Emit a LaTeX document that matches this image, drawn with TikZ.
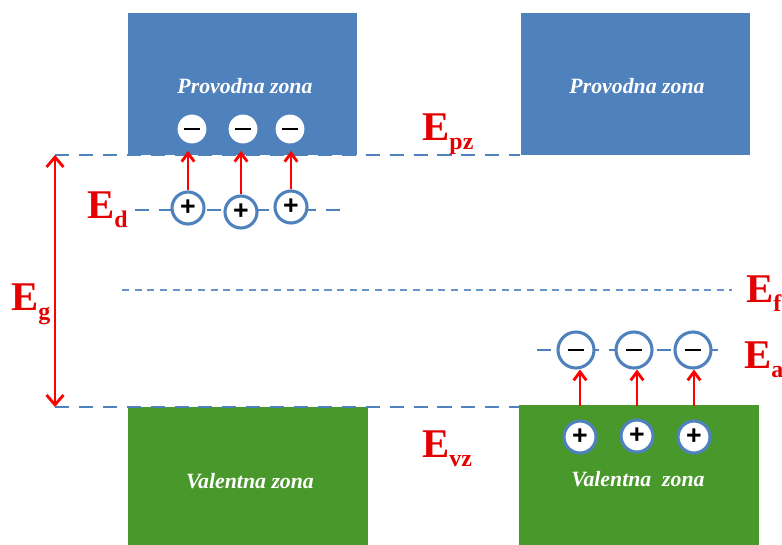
\documentclass[tikz,border=0pt]{standalone}
\usepackage{fontspec}
\setmainfont{Liberation Serif}
\setsansfont{Liberation Sans}
\usetikzlibrary{arrows.meta}

\definecolor{zoneblue}{RGB}{79,129,189}
\definecolor{zonegreen}{RGB}{73,152,43}
\definecolor{labelred}{RGB}{228,0,0}

% energy label: E with a lowered subscript
\newcommand{\elev}[1]{E\raisebox{-7pt}{\fontsize{17}{17}\selectfont #1}}
% signs inside a circle
\newcommand{\minussign}{\rule{12pt}{1.5pt}}
\newcommand{\plussign}{\raisebox{-1.5pt}{+}}

\begin{document}
\begin{tikzpicture}[x=0.025cm, y=-0.025cm,
  zone/.style={inner sep=0, outer sep=0, minimum width=5.725cm, minimum height=3.55cm},
  zonetext/.style={text=white, font=\bfseries\itshape\fontsize{15.5}{17}\selectfont},
  level/.style={draw=zoneblue, line width=2pt, dash pattern=on 10pt off 7pt},
  fermi/.style={draw=zoneblue!85, line width=0.8pt, dash pattern=on 5pt off 4pt},
  charge/.style={circle, draw=zoneblue, line width=2.2pt, fill=white, minimum size=0.8cm,
    inner sep=0, font=\sffamily\bfseries\fontsize{19}{19}\selectfont},
  free/.style={circle, fill=white, minimum size=0.72cm, inner sep=0},
  jump/.style={-{Straight Barb[length=6pt,width=9pt]}, red, line width=2pt},
  elabel/.style={text=labelred, font=\bfseries\fontsize{29}{30}\selectfont, inner sep=0, anchor=base west}]

  \useasboundingbox (0,0) rectangle (782,545);

  % zones
  \node[zone, fill=zoneblue] (pzA) at (242.5,84) {};
  \node[zone, fill=zoneblue] (pzB) at (635.5,84) {};
  \node[zone, fill=zonegreen, minimum width=6cm, minimum height=3.45cm] (vzA) at (248,476) {};
  \node[zone, fill=zonegreen, minimum width=6cm, minimum height=3.5cm] (vzB) at (639,475) {};

  \node[zonetext] (pzAtext) at (245,86) {Provodna zona};
  \node[zonetext] (pzBtext) at (637,86) {Provodna zona};
  \node[zonetext] (vzAtext) at (250,481) {Valentna zona};
  \node[zonetext] (vzBtext) at (638,479) {Valentna\ \ zona};

  % band edges and levels
  \coordinate (pzL) at (55,155);
  \coordinate (pzR) at (520,155);
  \coordinate (vzL) at (55,407);
  \coordinate (vzR) at (520,407);
  \coordinate (edL) at (135,210);
  \coordinate (edR) at (345,210);
  \coordinate (eaL) at (537,350);
  \coordinate (eaR) at (718,350);
  \coordinate (efL) at (122,290);
  \coordinate (efR) at (732,290);

  \draw[level] (pzL) -- (pzR);
  \draw[level] (vzL) -- (vzR);
  \draw[level] (edL) -- (edR);
  \draw[level] (eaL) -- (eaR);
  \draw[fermi] (efL) -- (efR);

  \draw[red, line width=2pt, {Straight Barb[length=7pt,width=12pt]}-{Straight Barb[length=7pt,width=12pt]}] (pzL) -- (vzL);

  % donors and free electrons
  \node[free] (e1) at (192,129) {\minussign};
  \node[free] (e2) at (243,129) {\minussign};
  \node[free] (e3) at (290,129) {\minussign};
  \node[charge] (d1) at (188,208) {\plussign};
  \node[charge] (d2) at (241,212) {\plussign};
  \node[charge] (d3) at (291,207) {\plussign};

  \draw[jump, shorten >=0.18cm] (d1.north) -- (d1.north |- e1.south);
  \draw[jump, shorten >=0.18cm] (d2.north) -- (d2.north |- e2.south);
  \draw[jump, shorten >=0.18cm] (d3.north) -- (d3.north |- e3.south);

  % acceptors and holes
  \node[charge, minimum size=0.9cm] (a1) at (576,350) {\minussign};
  \node[charge, minimum size=0.9cm] (a2) at (634,350) {\minussign};
  \node[charge, minimum size=0.9cm] (a3) at (693,350) {\minussign};
  \node[charge] (h1) at (580,437) {\plussign};
  \node[charge] (h2) at (637,436) {\plussign};
  \node[charge] (h3) at (694,437) {\plussign};

  \draw[jump, shorten <=0.33cm] (h1.north) -- (h1.north |- a1.south);
  \draw[jump, shorten <=0.32cm] (h2.north) -- (h2.north |- a2.south);
  \draw[jump, shorten <=0.33cm] (h3.north) -- (h3.north |- a3.south);

  % labels
  \node[elabel] (Epz) at (422,140) {\elev{pz}};
  \node[elabel] (Evz) at (422,457) {\elev{vz}};
  \node[elabel] (Ed) at (87,218) {\elev{d}};
  \node[elabel] (Eg) at (11,310) {\elev{g}};
  \node[elabel] (Ef) at (746,302) {\elev{f}};
  \node[elabel] (Ea) at (744,368) {\elev{a}};
\end{tikzpicture}
\end{document}
